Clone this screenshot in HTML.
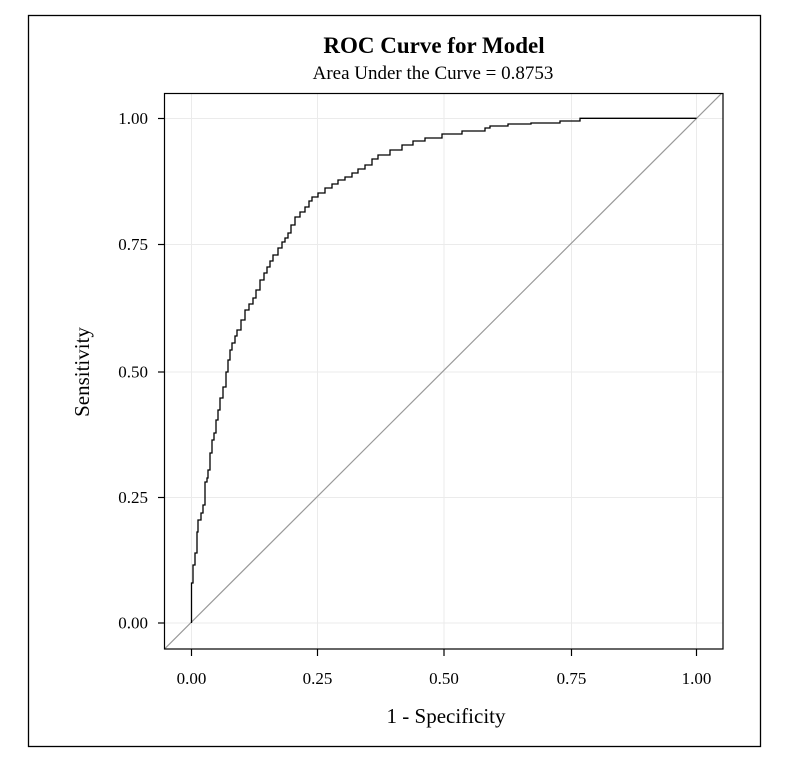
<!DOCTYPE html>
<html><head><meta charset="utf-8"><style>
html,body{margin:0;padding:0;background:#fff;}
svg{display:block;}
text{font-family:"Liberation Serif",serif;fill:#000;}
</style></head><body>
<svg width="801" height="777" viewBox="0 0 801 777" xmlns="http://www.w3.org/2000/svg">
<rect x="0" y="0" width="801" height="777" fill="#fff"/>
<rect x="28.5" y="15.5" width="732" height="731" fill="none" stroke="#000" stroke-width="1.3"/>
<g stroke="#ebebeb" stroke-width="1">
<line x1="191.5" y1="94" x2="191.5" y2="649"/>
<line x1="317.5" y1="94" x2="317.5" y2="649"/>
<line x1="444" y1="94" x2="444" y2="649"/>
<line x1="571.5" y1="94" x2="571.5" y2="649"/>
<line x1="696.5" y1="94" x2="696.5" y2="649"/>
<line x1="165" y1="118.5" x2="723" y2="118.5"/>
<line x1="165" y1="244.5" x2="723" y2="244.5"/>
<line x1="165" y1="372" x2="723" y2="372"/>
<line x1="165" y1="497.5" x2="723" y2="497.5"/>
<line x1="165" y1="623" x2="723" y2="623"/>
</g>
<clipPath id="c"><rect x="164.5" y="93.5" width="558.5" height="555.5"/></clipPath>
<line x1="164.5" y1="649" x2="723" y2="92" stroke="#999" stroke-width="1.2" clip-path="url(#c)"/>
<path fill="none" stroke="#000" stroke-width="1.3" d="M191.5,623 V583 H193 V565 H195 V553 H197 V532 H198 V520 H201 V513 H203 V505 H205 V482 H207 V478 H208 V470 H210 V453 H212 V440 H214 V433 H216 V420 H218 V410 H220 V398 H223 V387 H226 V372 H228 V360 H230 V350 H232 V343 H235 V336 H237 V330 H241 V320 H245 V310 H249 V304 H253 V298 H256 V290 H260 V280 H264 V273 H267 V267 H270 V261 H273 V255 H278 V248 H282 V242 H285 V238 H288 V233 H291 V225 H295 V217 H300 V212 H305 V207 H309 V201 H312 V197 H318 V193 H325 V188 H332 V184 H338 V180 H345 V177 H352 V173 H358 V169 H365 V165 H372 V159 H378 V155 H390 V150 H402 V145 H413 V141 H425 V138 H442 V134 H462 V131 H485 V128 H490 V126 H508 V124 H531 V123 H560 V121 H580 V118.3 H696.5"/>
<rect x="164.5" y="93.5" width="558.5" height="555.5" fill="none" stroke="#000" stroke-width="1.2"/>
<g stroke="#000" stroke-width="1.2">
<line x1="158" y1="118.5" x2="164.5" y2="118.5"/>
<line x1="158" y1="244.5" x2="164.5" y2="244.5"/>
<line x1="158" y1="372" x2="164.5" y2="372"/>
<line x1="158" y1="497.5" x2="164.5" y2="497.5"/>
<line x1="158" y1="623" x2="164.5" y2="623"/>
<line x1="191.5" y1="649" x2="191.5" y2="656"/>
<line x1="317.5" y1="649" x2="317.5" y2="656"/>
<line x1="444" y1="649" x2="444" y2="656"/>
<line x1="571.5" y1="649" x2="571.5" y2="656"/>
<line x1="696.5" y1="649" x2="696.5" y2="656"/>
</g>
<g font-size="17" text-anchor="end">
<text x="148" y="124">1.00</text>
<text x="148" y="250">0.75</text>
<text x="148" y="377.5">0.50</text>
<text x="148" y="503">0.25</text>
<text x="148" y="628.5">0.00</text>
</g>
<g font-size="17" text-anchor="middle">
<text x="191.5" y="684">0.00</text>
<text x="317.5" y="684">0.25</text>
<text x="444" y="684">0.50</text>
<text x="571.5" y="684">0.75</text>
<text x="696.5" y="684">1.00</text>
</g>
<text x="446" y="723" font-size="21" text-anchor="middle">1 - Specificity</text>
<text transform="translate(89,372) rotate(-90)" font-size="21" text-anchor="middle">Sensitivity</text>
<text x="434" y="53" font-size="23" font-weight="bold" text-anchor="middle">ROC Curve for Model</text>
<text x="433" y="79" font-size="19" text-anchor="middle">Area Under the Curve = 0.8753</text>
</svg>
</body></html>
